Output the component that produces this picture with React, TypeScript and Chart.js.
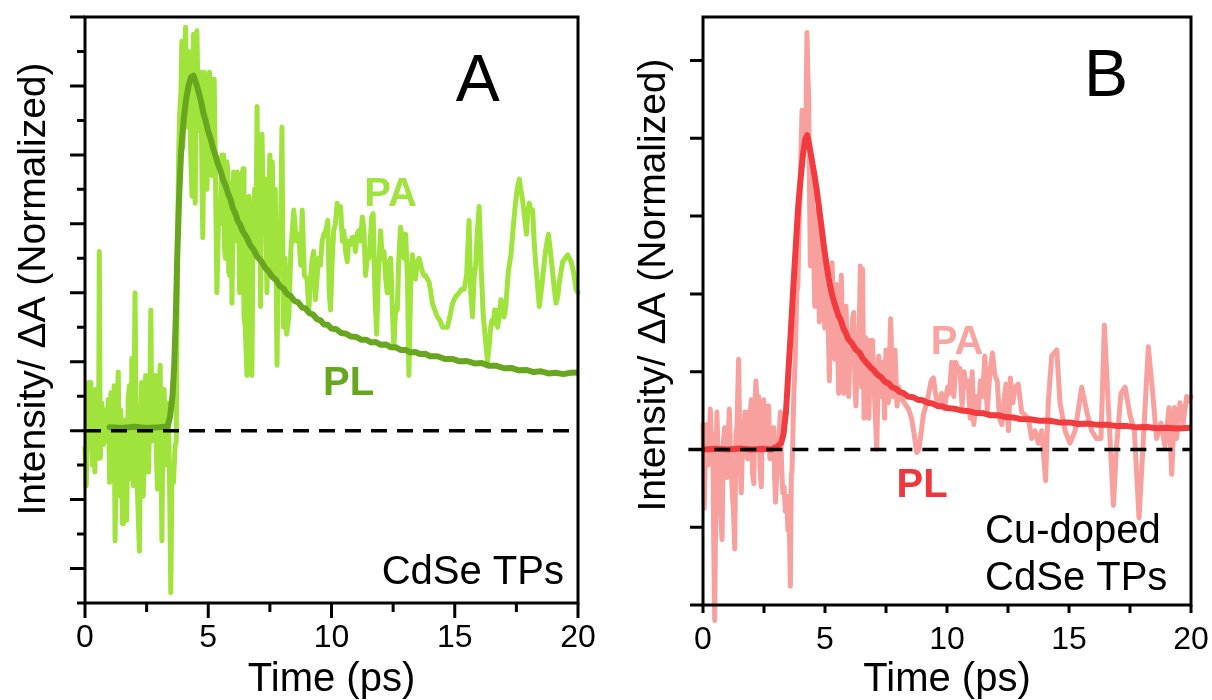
import React, { useEffect, useRef } from "react";
import { Chart, registerables } from "chart.js";
Chart.register(...registerables);

const FONT = '"Liberation Sans", Arial, Helvetica, sans-serif';

// ---------- shared axis data ----------
const xTickValues = [0, 2.5, 5, 7.5, 10, 12.5, 15, 17.5, 20];
const xLabelStep = 5;
const zeroLineA: [number, number][] = [[0, 0], [20, 0]];
const zeroLineB: [number, number][] = [[-0.6, 0], [20, 0]];
const yTicksA = [-0.5, -0.4, -0.3, -0.2, -0.1, 0, 0.1, 0.2, 0.3, 0.4, 0.5, 0.6, 0.7, 0.8, 0.9, 1.0, 1.1, 1.2];
const yTicksB = [-0.5, -0.25, 0, 0.25, 0.5, 0.75, 1.0, 1.25];

// ---------- Panel A: CdSe TPs ----------
const paA: [number, number][] = [
  [0.00, -0.05], [0.05, -0.16], [0.10, 0.02], [0.14, 0.14], [0.20, -0.05], [0.24, 0.14], [0.30, -0.10], [0.34, 0.06],
  [0.40, -0.12], [0.44, 0.12], [0.50, -0.05], [0.55, -0.08], [0.58, 0.52], [0.62, -0.08], [0.68, 0.08], [0.75, -0.04],
  [0.80, 0.06], [0.88, -0.03], [0.94, 0.09], [1.00, -0.15], [1.05, 0.11], [1.12, -0.08], [1.18, 0.13], [1.22, -0.32],
  [1.28, 0.04], [1.35, 0.17], [1.40, -0.19], [1.45, 0.06], [1.52, -0.27], [1.56, -0.27], [1.62, 0.03], [1.69, -0.26],
  [1.75, 0.09], [1.80, 0.13], [1.86, -0.14], [1.90, 0.21], [1.96, -0.16], [2.03, 0.40], [2.08, -0.05], [2.13, -0.18],
  [2.21, -0.35], [2.26, 0.05], [2.30, 0.14], [2.36, -0.19], [2.40, -0.10], [2.46, 0.16], [2.51, -0.06], [2.58, -0.12],
  [2.63, 0.10], [2.67, 0.35], [2.72, -0.03], [2.75, -0.03], [2.80, 0.12], [2.85, 0.16], [2.90, -0.08], [2.94, -0.17],
  [3.00, 0.10], [3.05, 0.19], [3.12, -0.32], [3.17, 0.05], [3.21, 0.12], [3.26, -0.06], [3.29, -0.10], [3.34, 0.08],
  [3.39, 0.05], [3.44, -0.20], [3.48, -0.47], [3.53, -0.10], [3.59, -0.15], [3.65, -0.05], [3.70, -0.03], [3.75, 0.50],
  [3.80, 0.80], [3.84, 0.92], [3.89, 0.98], [3.93, 1.13], [3.97, 0.82], [4.02, 1.05], [4.08, 1.17], [4.12, 0.95],
  [4.16, 0.88], [4.20, 1.10], [4.24, 1.08], [4.29, 0.80], [4.34, 0.68], [4.40, 1.15], [4.45, 0.75], [4.47, 0.66],
  [4.52, 1.10], [4.54, 1.16], [4.60, 0.88], [4.62, 0.87], [4.67, 1.02], [4.70, 1.04], [4.75, 0.70], [4.78, 0.56],
  [4.84, 1.04], [4.90, 0.82], [4.95, 0.70], [5.00, 0.98], [5.05, 1.04], [5.10, 0.76], [5.15, 0.74], [5.20, 0.90],
  [5.24, 1.02], [5.30, 0.70], [5.35, 0.40], [5.42, 0.62], [5.49, 0.60], [5.55, 0.80], [5.62, 0.80], [5.66, 0.53],
  [5.70, 0.50], [5.75, 0.78], [5.79, 0.76], [5.83, 0.46], [5.87, 0.45], [5.93, 0.72], [5.96, 0.37], [6.03, 0.75],
  [6.08, 0.55], [6.13, 0.58], [6.18, 0.75], [6.22, 0.74], [6.27, 0.40], [6.30, 0.48], [6.35, 0.73], [6.41, 0.76],
  [6.45, 0.33], [6.50, 0.30], [6.57, 0.16], [6.60, 0.60], [6.65, 0.68], [6.70, 0.38], [6.77, 0.16], [6.82, 0.60],
  [6.88, 0.70], [6.93, 0.52], [6.98, 0.94], [7.03, 0.50], [7.08, 0.75], [7.12, 0.36], [7.18, 0.86], [7.25, 0.58],
  [7.32, 0.73], [7.38, 0.40], [7.44, 0.62], [7.50, 0.80], [7.55, 0.45], [7.60, 0.78], [7.66, 0.50], [7.72, 0.70],
  [7.79, 0.19], [7.85, 0.60], [7.92, 0.50], [7.99, 0.88], [8.05, 0.30], [8.12, 0.50], [8.18, 0.28], [8.27, 0.33],
  [8.35, 0.52], [8.47, 0.64], [8.57, 0.55], [8.67, 0.57], [8.75, 0.48], [8.81, 0.64], [8.90, 0.45], [9.01, 0.44],
  [9.08, 0.35], [9.15, 0.44], [9.22, 0.50], [9.28, 0.52], [9.35, 0.38], [9.42, 0.45], [9.48, 0.50], [9.55, 0.48],
  [9.62, 0.55], [9.69, 0.57], [9.77, 0.58], [9.85, 0.61], [9.91, 0.40], [9.96, 0.35], [10.03, 0.50], [10.09, 0.58],
  [10.16, 0.60], [10.23, 0.66], [10.30, 0.63], [10.37, 0.65], [10.44, 0.55], [10.50, 0.58], [10.57, 0.52], [10.64, 0.49],
  [10.70, 0.55], [10.77, 0.54], [10.84, 0.56], [10.91, 0.56], [10.97, 0.52], [11.04, 0.57], [11.11, 0.58], [11.18, 0.55],
  [11.25, 0.62], [11.31, 0.59], [11.38, 0.45], [11.45, 0.50], [11.52, 0.50], [11.58, 0.56], [11.63, 0.62], [11.69, 0.63],
  [11.76, 0.40], [11.83, 0.28], [11.90, 0.45], [11.99, 0.58], [12.06, 0.50], [12.13, 0.52], [12.20, 0.44], [12.26, 0.40],
  [12.33, 0.49], [12.40, 0.50], [12.47, 0.35], [12.53, 0.24], [12.60, 0.36], [12.67, 0.35], [12.73, 0.50], [12.80, 0.59],
  [12.87, 0.56], [12.94, 0.50], [13.01, 0.57], [13.08, 0.44], [13.14, 0.16], [13.21, 0.42], [13.28, 0.51], [13.34, 0.47],
  [13.41, 0.44], [13.48, 0.49], [13.55, 0.50], [13.62, 0.48], [13.69, 0.46], [13.75, 0.45], [13.82, 0.45], [13.89, 0.44],
  [13.96, 0.43], [14.03, 0.40], [14.09, 0.37], [14.19, 0.35], [14.29, 0.33], [14.40, 0.32], [14.50, 0.30], [14.60, 0.30],
  [14.70, 0.30], [14.80, 0.33], [14.91, 0.37], [15.05, 0.39], [15.18, 0.40], [15.28, 0.41], [15.38, 0.41], [15.48, 0.45],
  [15.58, 0.61], [15.65, 0.40], [15.72, 0.33], [15.78, 0.44], [15.85, 0.48], [15.92, 0.58], [15.99, 0.65], [16.07, 0.48],
  [16.15, 0.34], [16.25, 0.26], [16.33, 0.20], [16.40, 0.25], [16.46, 0.30], [16.51, 0.32], [16.56, 0.31], [16.62, 0.35],
  [16.67, 0.35], [16.74, 0.30], [16.80, 0.33], [16.87, 0.38], [16.94, 0.37], [17.00, 0.33], [17.07, 0.36], [17.17, 0.46],
  [17.28, 0.51], [17.36, 0.58], [17.45, 0.65], [17.53, 0.70], [17.62, 0.73], [17.68, 0.70], [17.75, 0.67], [17.83, 0.62],
  [17.91, 0.57], [17.96, 0.63], [18.02, 0.66], [18.09, 0.64], [18.16, 0.64], [18.22, 0.55], [18.29, 0.48], [18.36, 0.42],
  [18.43, 0.36], [18.50, 0.40], [18.56, 0.44], [18.68, 0.52], [18.80, 0.57], [18.88, 0.52], [18.97, 0.46], [19.04, 0.41],
  [19.11, 0.37], [19.18, 0.39], [19.24, 0.43], [19.31, 0.46], [19.38, 0.49], [19.48, 0.50], [19.58, 0.51], [19.65, 0.50],
  [19.72, 0.49], [19.82, 0.46], [19.92, 0.41], [20.00, 0.40],
];

const plA: [number, number][] = [
  [1.0, 0.01], [1.5, 0.008], [2.0, 0.011], [2.5, 0.008], [3.0, 0.01], [3.35, 0.012], [3.45, 0.04], [3.55, 0.10],
  [3.62, 0.19], [3.68, 0.32], [3.74, 0.50], [3.82, 0.68], [3.90, 0.81], [4.0, 0.90], [4.1, 0.96], [4.2, 1.0],
  [4.3, 1.025], [4.4, 1.03], [4.5, 1.01], [4.6, 0.985], [4.7, 0.958], [4.8, 0.922], [4.9, 0.897], [5.0, 0.868],
  [5.1, 0.847], [5.2, 0.818], [5.3, 0.797], [5.4, 0.772], [5.5, 0.754], [5.6, 0.728], [5.7, 0.712], [5.8, 0.688],
  [5.9, 0.672], [6.0, 0.645], [6.1, 0.630], [6.2, 0.608], [6.3, 0.597], [6.4, 0.578], [6.55, 0.562], [6.7, 0.538],
  [6.85, 0.524], [7.0, 0.503], [7.15, 0.492], [7.3, 0.473], [7.45, 0.462], [7.6, 0.446], [7.75, 0.437], [7.9, 0.420],
  [8.05, 0.412], [8.2, 0.396], [8.35, 0.390], [8.5, 0.376], [8.65, 0.372], [8.8, 0.358], [8.95, 0.354], [9.1, 0.341],
  [9.25, 0.337], [9.4, 0.324], [9.55, 0.320], [9.7, 0.308], [9.85, 0.307], [10.0, 0.296], [10.2, 0.294], [10.4, 0.283],
  [10.6, 0.281], [10.8, 0.273], [11.0, 0.272], [11.2, 0.264], [11.4, 0.264], [11.6, 0.256], [11.8, 0.257], [12.0, 0.249],
  [12.2, 0.250], [12.4, 0.242], [12.6, 0.242], [12.8, 0.234], [13.0, 0.234], [13.2, 0.227], [13.4, 0.228], [13.6, 0.222],
  [13.8, 0.223], [14.0, 0.216], [14.3, 0.216], [14.6, 0.208], [14.9, 0.208], [15.2, 0.201], [15.5, 0.202], [15.8, 0.195],
  [16.1, 0.196], [16.4, 0.188], [16.7, 0.188], [17.0, 0.181], [17.3, 0.182], [17.6, 0.175], [17.9, 0.176], [18.2, 0.170],
  [18.5, 0.172], [18.8, 0.166], [19.1, 0.168], [19.4, 0.164], [19.7, 0.168], [20.0, 0.169],
];

// ---------- Panel B: Cu-doped CdSe TPs ----------
const paB: [number, number][] = [
  [0.00, 0.08], [0.05, -0.19], [0.10, -0.02], [0.16, 0.08], [0.22, -0.05], [0.30, 0.13], [0.35, 0.02], [0.40, 0.05],
  [0.44, -0.30], [0.48, -0.55], [0.53, -0.10], [0.57, 0.12], [0.62, -0.02], [0.67, 0.00], [0.72, -0.20], [0.78, -0.29],
  [0.83, 0.02], [0.89, 0.07], [0.94, -0.08], [0.98, -0.09], [1.04, 0.06], [1.08, 0.13], [1.14, -0.05], [1.19, -0.12],
  [1.25, -0.20], [1.30, -0.32], [1.35, 0.05], [1.39, 0.07], [1.46, 0.29], [1.52, -0.05], [1.57, -0.14], [1.62, 0.02],
  [1.67, 0.05], [1.72, 0.12], [1.76, 0.12], [1.82, -0.03], [1.87, -0.03], [1.92, 0.10], [1.98, 0.16], [2.03, -0.08],
  [2.08, -0.11], [2.13, 0.15], [2.17, 0.22], [2.22, 0.12], [2.28, 0.17], [2.33, -0.05], [2.39, -0.12], [2.44, 0.10],
  [2.49, 0.16], [2.54, 0.00], [2.58, 0.05], [2.64, 0.14], [2.69, 0.14], [2.74, -0.03], [2.80, -0.03], [2.85, 0.07],
  [2.90, 0.07], [2.94, -0.10], [2.97, -0.17], [3.02, -0.08], [3.07, -0.06], [3.12, 0.05], [3.17, 0.12], [3.22, -0.05],
  [3.27, -0.14], [3.32, -0.12], [3.38, -0.20], [3.43, -0.15], [3.48, -0.26], [3.53, -0.20], [3.58, -0.44], [3.62, -0.08],
  [3.65, -0.07], [3.72, 0.17], [3.78, 0.29], [3.84, 0.50], [3.89, 0.53], [3.94, 0.73], [3.99, 0.86], [4.03, 1.00],
  [4.06, 1.09], [4.12, 1.02], [4.17, 1.02], [4.22, 1.05], [4.26, 1.34], [4.30, 1.20], [4.33, 1.14], [4.37, 0.80],
  [4.40, 0.59], [4.44, 0.75], [4.47, 0.92], [4.52, 0.70], [4.58, 0.46], [4.62, 0.62], [4.67, 0.77], [4.72, 0.60],
  [4.77, 0.41], [4.82, 0.55], [4.88, 0.70], [4.93, 0.55], [4.99, 0.39], [5.04, 0.48], [5.08, 0.53], [5.13, 0.40],
  [5.18, 0.22], [5.23, 0.45], [5.29, 0.60], [5.35, 0.45], [5.40, 0.29], [5.45, 0.42], [5.49, 0.53], [5.53, 0.30],
  [5.56, 0.18], [5.62, 0.40], [5.67, 0.56], [5.72, 0.35], [5.77, 0.18], [5.82, 0.32], [5.86, 0.46], [5.92, 0.30],
  [5.97, 0.17], [6.02, 0.30], [6.08, 0.35], [6.13, 0.42], [6.18, 0.44], [6.23, 0.20], [6.27, 0.14], [6.32, 0.30],
  [6.38, 0.29], [6.43, 0.50], [6.45, 0.59], [6.50, 0.20], [6.54, 0.58], [6.60, 0.10], [6.66, 0.36], [6.73, 0.35],
  [6.80, 0.10], [6.86, 0.35], [6.95, 0.35], [7.03, 0.17], [7.12, 0.00], [7.20, 0.30], [7.32, 0.17], [7.38, 0.28],
  [7.44, 0.10], [7.50, 0.32], [7.60, 0.15], [7.69, 0.42], [7.78, 0.17], [7.87, 0.32], [7.95, 0.14], [8.03, 0.20],
  [8.10, 0.17], [8.25, 0.15], [8.42, 0.13], [8.55, 0.10], [8.65, 0.05], [8.76, -0.01], [8.85, 0.00], [8.95, 0.06],
  [9.03, 0.11], [9.20, 0.16], [9.35, 0.22], [9.44, 0.23], [9.55, 0.17], [9.65, 0.14], [9.78, 0.18], [9.90, 0.13],
  [10.02, 0.20], [10.10, 0.18], [10.19, 0.28], [10.28, 0.17], [10.36, 0.28], [10.45, 0.26], [10.53, 0.26], [10.62, 0.14],
  [10.70, 0.25], [10.80, 0.20], [10.87, 0.22], [10.95, 0.10], [11.03, 0.25], [11.10, 0.08], [11.19, 0.17], [11.28, 0.12],
  [11.37, 0.22], [11.46, 0.17], [11.55, 0.30], [11.65, 0.12], [11.76, 0.25], [11.86, 0.31], [11.96, 0.24], [12.06, 0.22],
  [12.15, 0.10], [12.25, 0.08], [12.34, 0.16], [12.42, 0.21], [12.52, 0.06], [12.60, 0.23], [12.70, 0.15], [12.79, 0.20],
  [12.92, 0.21], [13.06, 0.12], [13.20, 0.11], [13.33, 0.10], [13.47, 0.035], [13.61, 0.06], [13.74, 0.02], [13.88, 0.06],
  [14.04, -0.10], [14.15, 0.15], [14.29, 0.30], [14.50, 0.32], [14.63, 0.15], [14.84, 0.06], [15.04, 0.02], [15.25, 0.06],
  [15.52, 0.20], [15.73, 0.12], [15.93, 0.06], [16.13, 0.035], [16.31, 0.035], [16.45, 0.40], [16.61, 0.14], [16.82, -0.18],
  [16.95, 0.01], [17.13, 0.18], [17.30, 0.20], [17.50, 0.11], [17.68, 0.06], [17.87, -0.22], [18.05, 0.035], [18.25, 0.33],
  [18.42, 0.19], [18.59, 0.035], [18.77, 0.085], [18.93, 0.01], [19.10, 0.135], [19.21, -0.08], [19.32, 0.135], [19.41, 0.035],
  [19.55, 0.15], [19.68, 0.085], [19.82, 0.17], [19.92, 0.155], [20.00, 0.17],
];

const plB: [number, number][] = [
  [0.0, 0.0], [0.5, 0.002], [1.0, 0.0], [1.5, 0.003], [2.0, 0.0], [2.5, 0.002], [2.8, 0.0], [3.05, 0.01],
  [3.2, 0.02], [3.3, 0.05], [3.4, 0.12], [3.5, 0.25], [3.6, 0.38], [3.7, 0.52], [3.8, 0.65], [3.9, 0.78],
  [4.0, 0.87], [4.1, 0.95], [4.2, 1.0], [4.27, 1.01], [4.35, 0.98], [4.45, 0.935], [4.55, 0.89], [4.65, 0.84],
  [4.75, 0.78], [4.85, 0.72], [4.95, 0.655], [5.05, 0.60], [5.15, 0.55], [5.25, 0.51], [5.35, 0.48], [5.45, 0.455],
  [5.55, 0.43], [5.65, 0.415], [5.75, 0.39], [5.85, 0.375], [5.95, 0.355], [6.1, 0.342], [6.25, 0.322], [6.4, 0.313],
  [6.55, 0.292], [6.7, 0.279], [6.85, 0.265], [7.0, 0.254], [7.15, 0.24], [7.3, 0.232], [7.45, 0.218], [7.6, 0.213],
  [7.75, 0.2], [7.9, 0.196], [8.05, 0.185], [8.2, 0.182], [8.4, 0.17], [8.6, 0.168], [8.8, 0.16], [9.0, 0.158],
  [9.2, 0.15], [9.4, 0.148], [9.6, 0.14], [9.8, 0.139], [10.0, 0.133], [10.3, 0.131], [10.6, 0.125], [10.9, 0.123],
  [11.2, 0.117], [11.5, 0.116], [11.8, 0.11], [12.1, 0.11], [12.4, 0.104], [12.7, 0.103], [13.0, 0.098], [13.4, 0.097],
  [13.8, 0.092], [14.2, 0.092], [14.6, 0.087], [15.0, 0.087], [15.4, 0.082], [15.8, 0.083], [16.2, 0.079], [16.6, 0.079],
  [17.0, 0.075], [17.4, 0.075], [17.8, 0.071], [18.2, 0.072], [18.6, 0.068], [19.0, 0.07], [19.4, 0.067], [19.8, 0.069],
  [20.0, 0.07],
];

type Label = { text: string; t: number; v: number; size: number; bold?: boolean; color: string; align: CanvasTextAlign };

type Panel = {
  pa: [number, number][];
  pl: [number, number][];
  zero: [number, number][];
  paColor: string;
  plColor: string;
  yMin: number;
  yMax: number;
  yTicks: number[];
  yTickLen: (v: number) => number;
  xTickLen: (v: number) => number;
  area: { left: number; right: number; top: number; bottom: number };
  yTitle: { x: number; y: number };
  labels: Label[];
};

const W = 606;
const H = 700;

const panelA: Panel = {
  pa: paA,
  pl: plA,
  zero: zeroLineA,
  paColor: "#9fe33c",
  plColor: "#67a61e",
  yMin: -0.5,
  yMax: 1.2,
  yTicks: yTicksA,
  yTickLen: (v) => (Math.round(v * 10) % 2 === 0 ? 15 : 8),
  xTickLen: (v) => (v % 5 === 0 ? 15 : 9),
  area: { left: 85, right: 578, top: 17, bottom: 603 },
  yTitle: { x: 34, y: 289 },
  labels: [
    { text: "A", t: 15.93, v: 1.01, size: 66, color: "#000", align: "center" },
    { text: "PA", t: 12.4, v: 0.683, size: 40, bold: true, color: "#9fe33c", align: "center" },
    { text: "PL", t: 10.69, v: 0.134, size: 40, bold: true, color: "#67a61e", align: "center" },
    { text: "CdSe TPs", t: 19.43, v: -0.413, size: 40, color: "#000", align: "right" },
  ],
};

const panelB: Panel = {
  pa: paB,
  pl: plB,
  zero: zeroLineB,
  paColor: "#f8a09d",
  plColor: "#f23b3e",
  yMin: -0.5,
  yMax: 1.39,
  yTicks: yTicksB,
  yTickLen: () => 13,
  xTickLen: () => 8,
  area: { left: 97, right: 585, top: 17, bottom: 605 },
  yTitle: { x: 48, y: 285 },
  labels: [
    { text: "B", t: 16.52, v: 1.194, size: 66, color: "#000", align: "center" },
    { text: "PA", t: 10.41, v: 0.342, size: 40, bold: true, color: "#f8a5a2", align: "center" },
    { text: "PL", t: 8.98, v: -0.116, size: 40, bold: true, color: "#ee373c", align: "center" },
    { text: "Cu-doped", t: 11.56, v: -0.265, size: 40, color: "#000", align: "left" },
    { text: "CdSe TPs", t: 11.56, v: -0.416, size: 40, color: "#000", align: "left" },
  ],
};

const toXY = (arr: [number, number][]) => arr.map(([x, y]) => ({ x, y }));

function makeDecor(p: Panel) {
  return {
    id: "decor",
    afterDraw(chart: any) {
      const { ctx, chartArea, scales } = chart;
      const xs = scales.x;
      const ys = scales.y;
      ctx.save();
      ctx.strokeStyle = "#000";
      ctx.lineWidth = 3;
      ctx.lineCap = "butt";
      ctx.strokeRect(chartArea.left, chartArea.top, chartArea.right - chartArea.left, chartArea.bottom - chartArea.top);
      ctx.beginPath();
      for (const v of p.yTicks) {
        const y = ys.getPixelForValue(v);
        ctx.moveTo(chartArea.left - p.yTickLen(v), y);
        ctx.lineTo(chartArea.left, y);
      }
      for (const v of xTickValues) {
        const x = xs.getPixelForValue(v);
        ctx.moveTo(x, chartArea.bottom);
        ctx.lineTo(x, chartArea.bottom + p.xTickLen(v));
      }
      ctx.stroke();
      ctx.save();
      ctx.translate(p.yTitle.x, p.yTitle.y);
      ctx.rotate(-Math.PI / 2);
      ctx.fillStyle = "#000";
      ctx.font = `39px ${FONT}`;
      ctx.textAlign = "center";
      ctx.textBaseline = "middle";
      ctx.fillText("Intensity/ \u0394A (Normalized)", 0, 0);
      ctx.restore();
      for (const l of p.labels) {
        ctx.font = `${l.bold ? "bold " : ""}${l.size}px ${FONT}`;
        ctx.fillStyle = l.color;
        ctx.textAlign = l.align;
        ctx.textBaseline = "middle";
        ctx.fillText(l.text, xs.getPixelForValue(l.t), ys.getPixelForValue(l.v));
      }
      ctx.restore();
    },
  };
}

function PanelChart({ p, left }: { p: Panel; left: number }) {
  const ref = useRef<HTMLCanvasElement | null>(null);
  useEffect(() => {
    if (!ref.current) return;
    const chart = new Chart(ref.current, {
      type: "line",
      data: {
        datasets: [
          {
            data: toXY(p.zero),
            borderColor: "#000",
            borderWidth: 3.5,
            borderDash: [16, 10],
            pointRadius: 0,
            clip: false,
          },
          {
            data: toXY(p.pl),
            borderColor: p.plColor,
            borderWidth: 6,
            pointRadius: 0,
            tension: 0,
            borderJoinStyle: "round",
            borderCapStyle: "round",
          },
          {
            data: toXY(p.pa),
            borderColor: p.paColor,
            borderWidth: 5,
            pointRadius: 0,
            tension: 0,
            borderJoinStyle: "round",
            borderCapStyle: "round",
            clip: false,
          },
        ],
      } as any,
      options: {
        animation: false,
        responsive: false,
        devicePixelRatio: 1,
        layout: { padding: { left: 0, top: p.area.top, right: W - p.area.right, bottom: 0 } },
        plugins: { legend: { display: false }, tooltip: { enabled: false } },
        scales: {
          x: {
            type: "linear",
            min: 0,
            max: 20,
            grid: {
              display: true,
              drawOnChartArea: false,
              drawTicks: true,
              tickLength: 16,
              color: "rgba(0,0,0,0)",
            },
            border: { display: false },
            ticks: {
              stepSize: xLabelStep,
              color: "#000",
              font: { family: FONT, size: 32 },
              padding: 0,
              maxRotation: 0,
              autoSkip: false,
            },
            title: {
              display: true,
              text: "Time (ps)",
              color: "#000",
              font: { family: FONT, size: 40, lineHeight: 1 },
              padding: { top: 0, bottom: 0 },
            },
            afterFit: (s: any) => {
              s.height = H - p.area.bottom;
            },
          },
          y: {
            type: "linear",
            min: p.yMin,
            max: p.yMax,
            grid: { display: false, drawTicks: false },
            border: { display: false },
            ticks: { display: false },
            afterFit: (s: any) => {
              s.width = p.area.left;
            },
          },
        },
      } as any,
      plugins: [makeDecor(p)],
    });
    return () => chart.destroy();
  }, [p]);
  return (
    <canvas
      ref={ref}
      width={W}
      height={H}
      style={{ position: "absolute", left, top: 0, width: W, height: H }}
    />
  );
}

export default function App() {
  return (
    <div style={{ position: "fixed", left: 0, top: 0, width: 1212, height: 700, background: "#fff", overflow: "hidden" }}>
      <PanelChart p={panelA} left={0} />
      <PanelChart p={panelB} left={606} />
    </div>
  );
}
